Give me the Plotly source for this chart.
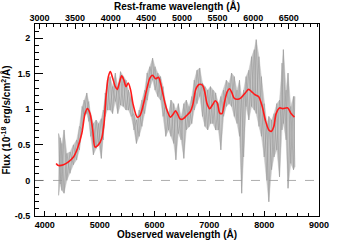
import plotly.graph_objects as go

# Observed wavelength grid (Å) for the noisy spectrum envelope
spec_wave = [4250, 4280, 4310, 4350, 4400, 4460, 4520, 4580, 4630, 4680, 4715, 4765,
             4800, 4835, 4885, 4935, 4980, 5030, 5065, 5100, 5140, 5190, 5235, 5285,
             5330, 5380, 5430, 5480, 5525, 5575, 5625, 5670, 5720, 5770, 5820, 5865,
             5915, 5965, 6010, 6060, 6110, 6155, 6205, 6255, 6300, 6350, 6390, 6435,
             6485, 6535, 6580, 6630, 6680, 6725, 6775, 6825, 6875, 6920, 6970, 7020,
             7065, 7115, 7165, 7210, 7260, 7310, 7360, 7405, 7455, 7505, 7550, 7590,
             7625, 7670, 7720, 7770, 7820, 7855, 7905, 7950, 8000, 8050, 8085, 8135,
             8180, 8230, 8280, 8325, 8350, 8400, 8435, 8485, 8535, 8560]
spec_upper = [0.66, 0.60, 0.52, 0.71, 0.38, 0.40, 0.50, 0.57, 0.76, 1.04, 1.13, 1.23,
              1.11, 0.94, 0.80, 0.85, 0.80, 0.87, 0.99, 1.23, 1.41, 1.46, 1.32, 1.51,
              1.32, 1.53, 1.46, 1.41, 1.27, 1.18, 0.94, 0.85, 0.99, 1.13, 1.27, 1.51,
              1.60, 1.72, 1.60, 1.51, 1.46, 1.32, 1.08, 0.94, 1.13, 1.08, 0.99, 1.08,
              0.90, 1.08, 1.13, 1.04, 1.18, 1.41, 1.55, 1.58, 1.37, 1.32, 1.27, 1.32,
              1.27, 1.23, 1.08, 1.18, 1.27, 1.41, 1.37, 1.51, 1.46, 1.27, 1.41, 1.18,
              1.27, 1.46, 1.55, 1.74, 1.84, 1.98, 1.74, 1.46, 1.08, 0.80, 0.90, 0.85,
              0.94, 1.08, 1.13, 1.65, 1.84, 1.27, 1.51, 1.04, 1.18, 1.18]
spec_lower = [-0.21, -0.05, -0.14, -0.18, 0.00, 0.10, 0.22, 0.29, 0.43, 0.71, 0.90, 0.94,
              0.83, 0.62, 0.36, 0.45, 0.52, 0.31, 0.57, 0.90, 0.99, 0.99, 0.94, 1.11,
              0.94, 1.06, 1.04, 0.99, 0.99, 0.90, 0.71, 0.52, 0.62, 0.76, 0.94, 1.13,
              1.30, 1.41, 1.27, 1.18, 1.13, 0.90, 0.62, 0.71, 0.62, 0.52, 0.29, 0.66,
              0.57, 0.31, 0.71, 0.75, 0.80, 0.99, 1.08, 1.18, 0.90, 0.76, 0.71, 0.80,
              0.80, 0.71, 0.71, 0.43, 0.90, 1.04, 1.08, 1.04, 0.90, 0.80, 0.62, -0.18,
              0.33, 1.04, 0.85, 1.04, 0.99, 0.94, 0.76, 0.62, 0.33, 0.00, -0.30, 0.15,
              0.33, 0.43, 0.05, 0.71, 0.80, 0.57, -0.11, 0.24, 0.15, 0.19]

# Smoothed model (red)
model_wave = [4206, 4248, 4339, 4430, 4521, 4594, 4673, 4733, 4776, 4824, 4873, 4915,
              4976, 5036, 5079, 5115, 5158, 5194, 5236, 5285, 5321, 5358, 5400, 5442,
              5479, 5521, 5564, 5612, 5685, 5733, 5794, 5855, 5915, 5964, 6018, 6073,
              6109, 6158, 6218, 6291, 6339, 6382, 6418, 6461, 6509, 6582, 6655, 6703,
              6752, 6812, 6873, 6915, 6958, 7006, 7055, 7109, 7145, 7188, 7230, 7279,
              7327, 7370, 7412, 7461, 7552, 7600, 7655, 7715, 7770, 7824, 7897, 7964,
              8024, 8085, 8127, 8176, 8218, 8279, 8339, 8430, 8491, 8552]
model_flux = [0.24, 0.21, 0.22, 0.26, 0.33, 0.45, 0.66, 0.94, 1.01, 0.94, 0.71, 0.47,
              0.50, 0.59, 0.80, 1.18, 1.46, 1.53, 1.44, 1.32, 1.28, 1.37, 1.47, 1.41,
              1.32, 1.37, 1.27, 1.06, 0.89, 0.91, 1.06, 1.27, 1.44, 1.48, 1.43, 1.45,
              1.37, 1.20, 1.01, 0.89, 0.93, 0.98, 0.94, 0.87, 0.86, 0.91, 0.97, 1.08,
              1.28, 1.35, 1.34, 1.25, 1.08, 1.01, 1.06, 1.12, 1.09, 0.95, 0.94, 1.11,
              1.25, 1.29, 1.23, 1.15, 1.15, 1.18, 1.23, 1.28, 1.25, 1.21, 1.18, 1.04,
              0.84, 0.71, 0.69, 0.76, 0.94, 1.02, 1.01, 1.02, 0.94, 0.89]

obs_range = [3820, 9000]
rest_range = [2938, 6923]
flux_range = [-0.5, 2.2]
y_tickvals = [-0.5, 0, 0.5, 1, 1.5, 2]
y_ticktext = ["-0.5", "0", "0.5", "1", "1.5", "2"]
obs_tickvals = [4000, 5000, 6000, 7000, 8000, 9000]
rest_tickvals = [3000, 3500, 4000, 4500, 5000, 5500, 6000, 6500]

FONT = "Liberation Sans"

# zig-zag traces picking alternately the upper and lower envelope values
zig_a = [spec_upper[i] if i % 2 == 0 else spec_lower[i] for i in range(len(spec_wave))]
zig_b = [spec_lower[i] if i % 2 == 0 else spec_upper[i] for i in range(len(spec_wave))]

fig = go.Figure()

fig.add_trace(go.Scatter(x=spec_wave, y=spec_lower, mode="lines",
                         line=dict(color="rgba(190,190,190,0.7)", width=0.6),
                         hoverinfo="skip", showlegend=False))
fig.add_trace(go.Scatter(x=spec_wave, y=spec_upper, mode="lines", fill="tonexty",
                         fillcolor="rgba(175,175,175,0.7)",
                         line=dict(color="rgba(190,190,190,0.7)", width=0.6),
                         hoverinfo="skip", showlegend=False))
fig.add_trace(go.Scatter(x=spec_wave, y=zig_a, mode="lines",
                         line=dict(color="rgba(150,150,150,0.8)", width=0.7),
                         hoverinfo="skip", showlegend=False))
fig.add_trace(go.Scatter(x=spec_wave, y=zig_b, mode="lines",
                         line=dict(color="rgba(150,150,150,0.8)", width=0.7),
                         hoverinfo="skip", showlegend=False))
fig.add_trace(go.Scatter(x=model_wave, y=model_flux, mode="lines",
                         line=dict(color="#ff1a1a", width=1.6, shape="spline", smoothing=0.8),
                         showlegend=False))
# invisible trace to activate the top axis
fig.add_trace(go.Scatter(x=rest_range, y=flux_range, xaxis="x2", mode="markers",
                         marker=dict(opacity=0), hoverinfo="skip", showlegend=False))

fig.add_shape(type="line", xref="paper", x0=0, x1=1, yref="y", y0=0, y1=0,
              line=dict(color="#999999", width=0.8, dash="dash"))

tickfont = dict(family=FONT, size=9, color="black", weight="bold")
titlefont = dict(family=FONT, size=10, color="black", weight="bold")

fig.update_layout(
    width=355, height=240,
    margin=dict(l=35, r=36, t=24, b=24, autoexpand=False),
    paper_bgcolor="white", plot_bgcolor="white",
    xaxis=dict(range=obs_range, tickvals=obs_tickvals, ticks="inside", ticklen=5,
               tickwidth=1, tickcolor="black", showline=True, linecolor="black",
               linewidth=1, mirror=True, showgrid=False, zeroline=False,
               automargin=False,
               tickfont=tickfont, ticklabelstandoff=0,
               minor=dict(dtick=200, tick0=4000, ticks="inside", ticklen=3,
                          tickcolor="black", showgrid=False),
               title=dict(text="Observed wavelength (Å)", font=titlefont, standoff=1)),
    xaxis2=dict(range=rest_range, overlaying="x", side="top", tickvals=rest_tickvals,
                ticks="inside", ticklen=5, tickwidth=1, tickcolor="black",
                showline=False, showgrid=False, zeroline=False, tickfont=tickfont,
                automargin=False, ticklabelstandoff=0,
                minor=dict(dtick=100, tick0=3000, ticks="inside", ticklen=3,
                           tickcolor="black", showgrid=False),
                title=dict(text="Rest-frame wavelength (Å)", font=titlefont, standoff=1)),
    yaxis=dict(range=flux_range, tickvals=y_tickvals, ticktext=y_ticktext,
               ticks="inside", ticklen=8, tickwidth=1, tickcolor="black",
               showline=True, linecolor="black", linewidth=1, mirror=True,
               showgrid=False, zeroline=False, tickfont=tickfont, ticklabelstandoff=2,
               automargin=False,
               minor=dict(dtick=0.1, tick0=0, ticks="inside", ticklen=4,
                          tickcolor="black", showgrid=False),
               title=dict(text="Flux (10<sup>-18</sup> erg/s/cm<sup>2</sup>/Å)",
                          font=titlefont, standoff=2)),
)

fig.write_html("out.html", config={"displayModeBar": False},
               post_script="document.body.style.margin='0';document.body.style.padding='0';")
